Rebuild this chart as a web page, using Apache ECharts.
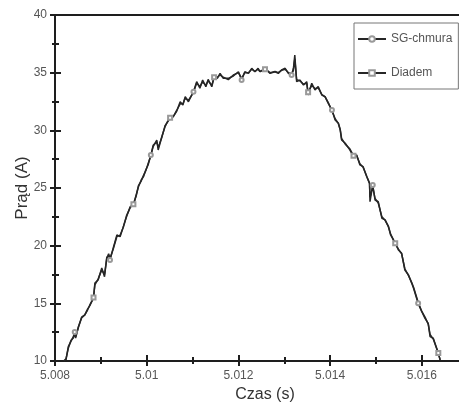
<!DOCTYPE html>
<html><head><meta charset="utf-8">
<script src="https://cdn.jsdelivr.net/npm/echarts@6/dist/echarts.min.js"></script>
<style>html,body{margin:0;padding:0;background:#fff}#c{width:459px;height:403px}</style>
</head><body><div id="c"></div>
<script>
// time samples (s)
const times = [
 5.00819, 5.00824, 5.00829, 5.00835, 5.00840, 5.00843, 5.00845, 5.00851, 5.00858, 5.00865,
 5.00871, 5.00876, 5.00884, 5.00887, 5.00894, 5.00902, 5.00908, 5.00913, 5.00917, 5.00920,
 5.00927, 5.00935, 5.00942, 5.00949, 5.00956, 5.00964, 5.00971, 5.00977, 5.00982, 5.00988,
 5.00993, 5.00998, 5.01003, 5.01009, 5.01014, 5.01022, 5.01025, 5.01033, 5.01040, 5.01047,
 5.01051, 5.01058, 5.01065, 5.01073, 5.01079, 5.01084, 5.01091, 5.01102, 5.01109, 5.01116,
 5.01122, 5.01129, 5.01134, 5.01142, 5.01147, 5.01154, 5.01160, 5.01167, 5.01178, 5.01189,
 5.01200, 5.01207, 5.01214, 5.01222, 5.01229, 5.01236, 5.01243, 5.01247, 5.01258, 5.01269,
 5.01280, 5.01287, 5.01294, 5.01302, 5.01309, 5.01316, 5.01320, 5.01323, 5.01327, 5.01334,
 5.01342, 5.01349, 5.01352, 5.01360, 5.01367, 5.01374, 5.01382, 5.01389, 5.01396, 5.01404,
 5.01411, 5.01418, 5.01422, 5.01425, 5.01433, 5.01443, 5.01451, 5.01458, 5.01465, 5.01472,
 5.01480, 5.01486, 5.01487, 5.01493, 5.01498, 5.01505, 5.01513, 5.01520, 5.01527, 5.01532,
 5.01542, 5.01549, 5.01556, 5.01563, 5.01571, 5.01578, 5.01582, 5.01592, 5.01600, 5.01607,
 5.01614, 5.01618, 5.01625, 5.01629, 5.01636, 5.01640
];
// SG-chmura current (A)
const sgChmura = [
 10.0, 10.1, 11.24, 11.73, 12.11, 12.51, 11.99, 12.97, 13.73, 13.99,
 14.42, 14.86, 15.46, 16.76, 17.02, 18.06, 17.31, 19.04, 19.19, 18.76,
 19.80, 20.93, 20.78, 21.65, 22.51, 23.38, 23.53, 24.39, 25.11, 25.69,
 25.98, 26.56, 26.99, 27.86, 28.58, 29.16, 28.30, 29.45, 30.32, 30.90,
 31.04, 31.18, 31.62, 32.48, 32.20, 32.92, 32.48, 33.35, 34.22, 33.65,
 34.36, 33.78, 34.42, 33.78, 34.65, 34.51, 34.94, 34.51, 34.51, 34.71,
 35.08, 34.36, 35.08, 34.94, 35.38, 35.08, 35.38, 35.08, 35.38, 34.94,
 35.08, 34.94, 35.23, 35.38, 34.94, 34.80, 35.38, 36.53, 34.22, 34.36,
 33.93, 34.22, 33.06, 34.08, 33.50, 33.79, 33.06, 32.92, 32.34, 31.76,
 30.90, 30.61, 30.03, 29.16, 28.88, 28.30, 27.71, 27.86, 27.00, 26.85,
 25.98, 25.41, 23.81, 25.26, 23.96, 23.81, 22.37, 22.23, 21.65, 20.93,
 20.21, 19.62, 19.34, 17.89, 17.46, 16.74, 16.30, 15.00, 14.27, 13.70,
 13.27, 12.11, 11.97, 11.82, 10.67, 10.09
];
// Diadem current (A)
const diadem = [
 10.0, 10.2, 11.1, 11.8, 12.0, 12.3, 12.1, 12.9, 13.8, 14.0,
 14.5, 14.8, 15.5, 16.6, 17.1, 17.9, 17.5, 18.9, 19.3, 18.9,
 19.7, 20.8, 20.9, 21.6, 22.6, 23.3, 23.6, 24.3, 25.2, 25.6,
 26.1, 26.5, 27.1, 27.8, 28.7, 29.0, 28.5, 29.4, 30.4, 30.8,
 31.1, 31.2, 31.7, 32.3, 32.3, 32.8, 32.6, 33.3, 34.1, 33.8,
 34.2, 33.9, 34.3, 33.9, 34.6, 34.6, 34.8, 34.6, 34.4, 34.8,
 35.0, 34.5, 35.0, 35.0, 35.3, 35.1, 35.3, 35.1, 35.3, 35.0,
 35.1, 35.0, 35.2, 35.3, 35.0, 34.9, 35.2, 36.2, 34.4, 34.3,
 34.0, 34.1, 33.3, 33.9, 33.6, 33.7, 33.1, 32.9, 32.4, 31.7,
 31.0, 30.6, 30.1, 29.3, 28.8, 28.4, 27.8, 27.8, 27.1, 26.8,
 26.0, 25.4, 24.2, 25.1, 24.1, 23.7, 22.5, 22.2, 21.7, 21.0,
 20.2, 19.7, 19.3, 18.0, 17.4, 16.8, 16.4, 15.1, 14.3, 13.8,
 13.2, 12.3, 11.9, 11.8, 10.7, 10.1
];
const xTickLabels = ['5.008', '5.01', '5.012', '5.014', '5.016'];
const yTickLabels = ['10', '15', '20', '25', '30', '35', '40'];
const seriesNames = ['SG-chmura', 'Diadem'];

const X_MIN = 5.008, X_STEP = 0.002, X_MAX = 5.01716;
const Y_MIN = 10, Y_STEP = 5, Y_MAX = 40;
const FONT = '"Liberation Sans", Arial, sans-serif';
const AX = '#1e1e1e';

function markerFor(i, seriesIdx) {
  // marker every 7th sample, alternating between the two series
  if (i % 7 !== 5) return 'none';
  return (Math.floor(i / 7) % 2 === seriesIdx) ? undefined : 'none';
}
function buildData(vals, sIdx) {
  return times.map((t, i) => {
    const s = markerFor(i, sIdx);
    return s === 'none' ? { value: [t, vals[i]], symbol: 'none' } : { value: [t, vals[i]] };
  });
}
const xFmt = v => { const k = Math.round((v - X_MIN) / X_STEP); return xTickLabels[k] !== undefined && Math.abs(v - (X_MIN + k * X_STEP)) < 1e-7 ? xTickLabels[k] : ''; };
const yFmt = v => { const k = Math.round((v - Y_MIN) / Y_STEP); return yTickLabels[k] || ''; };

const baseX = { type: 'value', min: X_MIN, max: X_MAX, interval: X_STEP, splitLine: { show: false } };
const baseY = { type: 'value', min: Y_MIN, max: Y_MAX, interval: Y_STEP, position: 'left', splitLine: { show: false } };

const chart = echarts.init(document.getElementById('c'));
chart.setOption({
  animation: false,
  backgroundColor: '#fff',
  grid: { left: 55, top: 15, width: 420, height: 346, outerBoundsMode: 'none', containLabel: false },
  legend: {
    orient: 'vertical', left: 354, top: 23,
    padding: [10, 6, 10, 3], itemGap: 22, itemWidth: 28, itemHeight: 7,
    borderColor: '#777', borderWidth: 1, backgroundColor: '#fff',
    textStyle: { color: '#555', fontSize: 12, fontFamily: FONT },
    data: seriesNames
  },
  xAxis: [
    Object.assign({}, baseX, {
      position: 'bottom',
      name: 'Czas (s)', nameLocation: 'middle', nameGap: 26,
      nameTextStyle: { color: '#333', fontSize: 16, fontFamily: FONT },
      axisLine: { show: true, lineStyle: { color: AX, width: 2 } },
      axisTick: { show: true, length: 5, lineStyle: { color: AX, width: 2 } },
      minorTick: { show: true, splitNumber: 2, length: 3, lineStyle: { color: AX, width: 2 } },
      axisLabel: { formatter: xFmt, color: '#555', fontSize: 12, fontFamily: FONT, margin: 9, showMaxLabel: false }
    }),
    Object.assign({}, baseX, {
      position: 'bottom',
      axisLine: { show: false },
      axisTick: { show: true, inside: true, length: 6, lineStyle: { color: AX, width: 2 } },
      minorTick: { show: true, splitNumber: 2, length: 4, lineStyle: { color: AX, width: 2 } },
      axisLabel: { show: false }
    }),
    Object.assign({}, baseX, {
      position: 'top',
      axisLine: { show: true, lineStyle: { color: AX, width: 2 } },
      axisTick: { show: false }, minorTick: { show: false },
      axisLabel: { show: false }
    })
  ],
  yAxis: [
    Object.assign({}, baseY, {
      name: 'Prąd (A)', nameLocation: 'middle', nameGap: 24, nameMoveOverlap: false,
      nameTextStyle: { color: '#333', fontSize: 17, fontFamily: FONT },
      axisLine: { show: true, lineStyle: { color: AX, width: 2 } },
      axisTick: { show: true, length: 5, lineStyle: { color: AX, width: 2 } },
      minorTick: { show: true, splitNumber: 2, length: 3, lineStyle: { color: AX, width: 2 } },
      axisLabel: { formatter: yFmt, color: '#555', fontSize: 12, fontFamily: FONT, margin: 8 }
    }),
    Object.assign({}, baseY, {
      axisLine: { show: false },
      axisTick: { show: true, inside: true, length: 6, lineStyle: { color: AX, width: 2 } },
      minorTick: { show: true, splitNumber: 2, length: 4, lineStyle: { color: AX, width: 2 } },
      axisLabel: { show: false }
    })
  ],
  series: [
    {
      name: seriesNames[0], type: 'line', xAxisIndex: 0, yAxisIndex: 0,
      data: buildData(sgChmura, 0),
      symbol: 'emptyCircle', symbolSize: 4, showSymbol: true, showAllSymbol: true,
      lineStyle: { color: '#262626', width: 1.5 },
      itemStyle: { color: '#999', borderWidth: 1 },
      emphasis: { disabled: true }
    },
    {
      name: seriesNames[1], type: 'line', xAxisIndex: 0, yAxisIndex: 0,
      data: buildData(diadem, 1),
      symbol: 'emptyRect', symbolSize: 4, showSymbol: true, showAllSymbol: true,
      lineStyle: { color: '#262626', width: 1.5 },
      itemStyle: { color: '#999', borderWidth: 1 },
      emphasis: { disabled: true }
    }
  ]
});
</script></body></html>
